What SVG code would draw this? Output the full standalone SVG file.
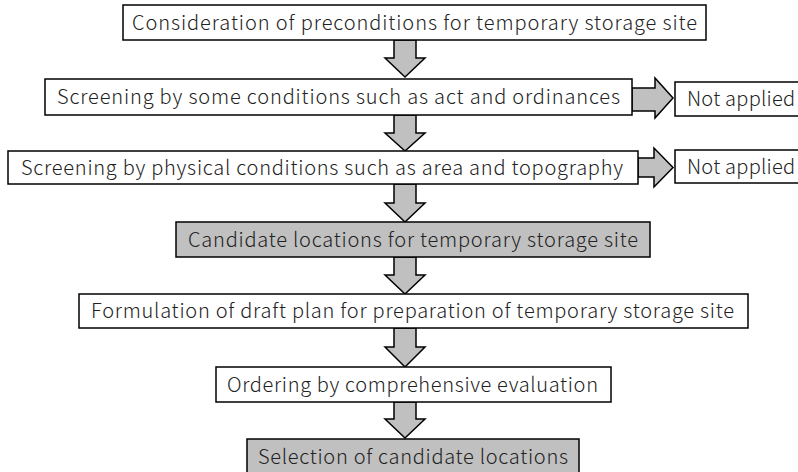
<svg xmlns="http://www.w3.org/2000/svg" width="798" height="472" viewBox="0 0 798 472">
<style>
.box{fill:#fff;stroke:#000;stroke-width:1.5}
.hl{fill:#c0c0c0;stroke:#000;stroke-width:1.5}
.arr{fill:#c0c0c0;stroke:#000;stroke-width:1.5;stroke-linejoin:miter}
text{font-family:"Noto Sans CJK JP","Noto Sans",sans-serif;font-size:20px;font-weight:300;fill:#222}
</style>
<rect width="798" height="472" fill="#fff"/>
<g id="connectors">
<polygon class="arr" points="394,40 416,40 416,58 425,58 405,77 385,58 394,58"/>
<polygon class="arr" points="394,115 416,115 416,133 425,133 405,151 385,133 394,133"/>
<polygon class="arr" points="394,184 416,184 416,203 425,203 405,222 385,203 394,203"/>
<polygon class="arr" points="394,257 416,257 416,275 425,275 405,294 385,275 394,275"/>
<polygon class="arr" points="394,328 416,328 416,347 425,347 405,367 385,347 394,347"/>
<polygon class="arr" points="394,402 416,402 416,419 425,419 405,438 385,419 394,419"/>
<polygon class="arr" points="632,88 655,88 655,78 673,98 655,118 655,111 632,111"/>
<polygon class="arr" points="638,158 654,158 654,148 673,167.5 654,187 654,177 638,177"/>
</g>
<g id="n1"><rect class="box" x="123" y="5" width="583" height="35"/><text x="132" y="29.5" textLength="565">Consideration of preconditions for temporary storage site</text></g>
<g id="n2"><rect class="box" x="45" y="79" width="587" height="36"/><text x="57" y="104" textLength="563">Screening by some conditions such as act and ordinances</text></g>
<g id="n2x"><rect class="box" x="675" y="82" width="130" height="34"/><text x="687" y="106" textLength="108">Not applied</text></g>
<g id="n3"><rect class="box" x="8" y="151" width="630" height="33"/><text x="21" y="174.5" textLength="602">Screening by physical conditions such as area and topography</text></g>
<g id="n3x"><rect class="box" x="675" y="150" width="130" height="33"/><text x="687" y="173.5" textLength="108">Not applied</text></g>
<g id="n4"><rect class="hl" x="176" y="222" width="474" height="35"/><text x="188" y="246.5" textLength="450">Candidate locations for temporary storage site</text></g>
<g id="n5"><rect class="box" x="79" y="294" width="669" height="34"/><text x="91" y="318" textLength="643">Formulation of draft plan for preparation of temporary storage site</text></g>
<g id="n6"><rect class="box" x="216" y="367" width="395" height="35"/><text x="227" y="391.5" textLength="371">Ordering by comprehensive evaluation</text></g>
<g id="n7"><rect class="hl" x="247" y="439" width="332" height="45"/><text x="258" y="463.5" textLength="310">Selection of candidate locations</text></g>
</svg>
